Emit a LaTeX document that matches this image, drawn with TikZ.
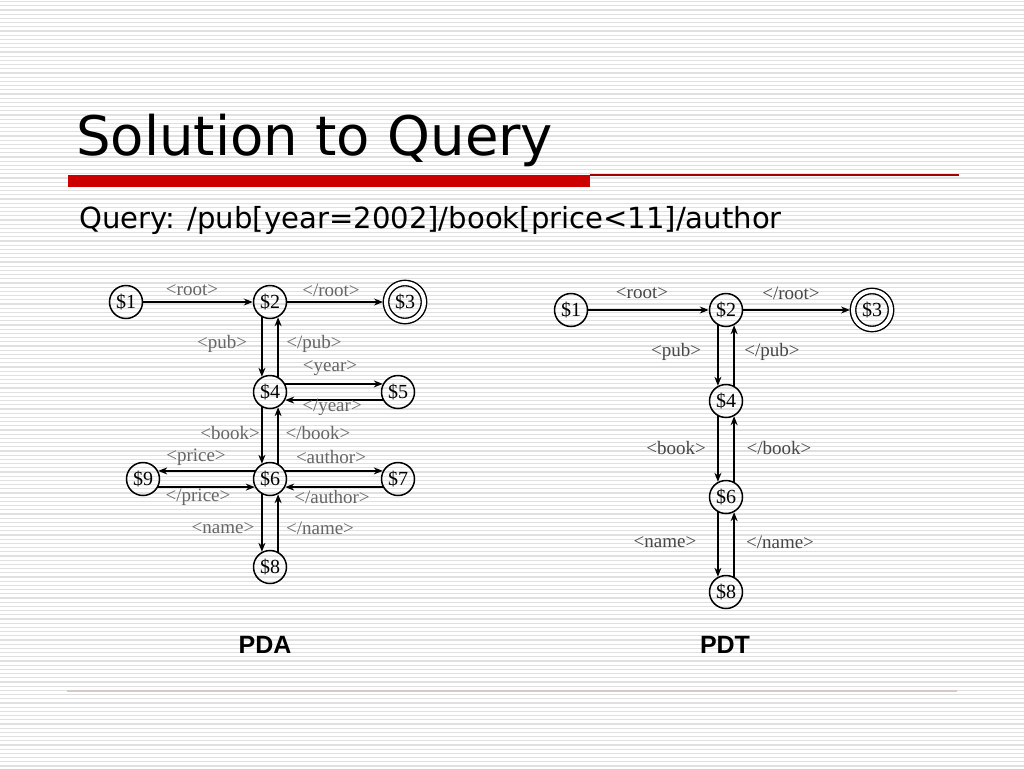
\documentclass[tikz,border=0pt]{standalone}
\usepackage{fontspec}
\setmainfont{Liberation Serif}
\newfontfamily\titlefont{DejaVu Sans}
\newfontfamily\capsans{Liberation Sans}
\usetikzlibrary{arrows.meta}
\definecolor{stripe}{HTML}{E0E0E0}
\definecolor{barred}{HTML}{CC0000}
\definecolor{rulegray}{HTML}{D8C8C8}
\begin{document}
\begin{tikzpicture}[x=1pt,y=-1pt,
  state/.style={circle,draw,line width=1.5pt,minimum size=33pt,inner sep=0pt,
    font=\fontsize{20}{20}\selectfont},
  final/.style={circle,draw,line width=1.4pt,minimum size=38pt,inner sep=0pt,
    double,double distance=4pt,outer sep=3pt,font=\fontsize{20}{20}\selectfont},
  tr/.style={-{Stealth[length=9pt,width=7pt]},line width=1.3pt},
  lblA/.style={text=black!60,font=\fontsize{19}{19}\selectfont,inner sep=0pt},
  lblB/.style={text=black!72,font=\fontsize{19}{19}\selectfont,inner sep=0pt},
  captionlbl/.style={font=\capsans\bfseries\fontsize{25}{25}\selectfont,inner sep=0pt}
]
\useasboundingbox (0,0) rectangle (1024,768);
\fill[white] (0,0) rectangle (1024,768);
\foreach \i in {0,...,182} {
  \draw[stripe,line width=1.3pt] (0,{1.6+4.2*\i}) -- (1024,{1.6+4.2*\i});
}
% title
\node[anchor=base west,inner sep=0pt,font=\titlefont\fontsize{54.5}{54.5}\selectfont] (title) at (76,155) {Solution to Query};
\fill[barred] (68,175) rectangle (590,187);
\draw[barred!80!black,line width=1.5pt] (590,175) -- (959,175);
\node[anchor=base west,inner sep=0pt,font=\titlefont\fontsize{29.1}{29.1}\selectfont] (query) at (79,228) {Query: /pub[year=2002]/book[price<11]/author};
\draw[rulegray,line width=1.2pt] (67,691) -- (957,691);

% ---------------- PDA ----------------
\node[state] (a1) at (126,302) {\$1};
\node[state] (a2) at (270,302) {\$2};
\node[final] (a3) at (405,302) {\$3};
\node[state] (a4) at (270,392) {\$4};
\node[state] (a5) at (398,392) {\$5};
\node[state] (a6) at (270,479) {\$6};
\node[state] (a7) at (398,479) {\$7};
\node[state] (a9) at (143,479) {\$9};
\node[state] (a8) at (270,567) {\$8};

\draw[tr] (a1) -- (a2);
\draw[tr] (a2) -- (a3);
\draw[tr] (a2.-118) -- (a4.118);
\draw[tr] (a4.62) -- (a2.-62);
\draw[tr] (a4.28) -- (a5.152);
\draw[tr] (a5.-152) -- (a4.-28);
\draw[tr] (a4.-118) -- (a6.118);
\draw[tr] (a6.62) -- (a4.-62);
\draw[tr] (a6.152) -- (a9.28);
\draw[tr] (a9.-28) -- (a6.-152);
\draw[tr] (a6.28) -- (a7.152);
\draw[tr] (a7.-152) -- (a6.-28);
\draw[tr] (a6.-118) -- (a8.118);
\draw[tr] (a8.62) -- (a6.-62);

\node[lblA] (la1) at (192,290) {<root>};
\node[lblA] (la2) at (331,290) {</root>};
\node[lblA] (la3) at (222,344) {<pub>};
\node[lblA] (la4) at (314,344) {</pub>};
\node[lblA] (la5) at (330,368) {<year>};
\node[lblA] (la6) at (332,407) {</year>};
\node[lblA] (la7) at (230,433) {<book>};
\node[lblA] (la8) at (318,433) {</book>};
\node[lblA] (la9) at (196,457) {<price>};
\node[lblA] (la10) at (331,457) {<author>};
\node[lblA] (la11) at (198,497) {</price>};
\node[lblA] (la12) at (332,497) {</author>};
\node[lblA] (la13) at (223,528) {<name>};
\node[lblA] (la14) at (320,528) {</name>};

\node[captionlbl] (pda) at (265,645) {PDA};

% ---------------- PDT ----------------
\node[state] (b1) at (571,310) {\$1};
\node[state] (b2) at (726,310) {\$2};
\node[final] (b3) at (872,310) {\$3};
\node[state] (b4) at (726,401) {\$4};
\node[state] (b6) at (726,497) {\$6};
\node[state] (b8) at (726,592) {\$8};

\draw[tr] (b1) -- (b2);
\draw[tr] (b2) -- (b3);
\draw[tr] (b2.-118) -- (b4.118);
\draw[tr] (b4.62) -- (b2.-62);
\draw[tr] (b4.-118) -- (b6.118);
\draw[tr] (b6.62) -- (b4.-62);
\draw[tr] (b6.-118) -- (b8.118);
\draw[tr] (b8.62) -- (b6.-62);

\node[lblB] (lb1) at (642,293) {<root>};
\node[lblB] (lb2) at (791,293) {</root>};
\node[lblB] (lb3) at (676,352) {<pub>};
\node[lblB] (lb4) at (772,352) {</pub>};
\node[lblB] (lb5) at (676,448) {<book>};
\node[lblB] (lb6) at (779,448) {</book>};
\node[lblB] (lb7) at (665,542) {<name>};
\node[lblB] (lb8) at (780,542) {</name>};

\node[captionlbl] (pdt) at (725,645) {PDT};
\end{tikzpicture}
\end{document}
